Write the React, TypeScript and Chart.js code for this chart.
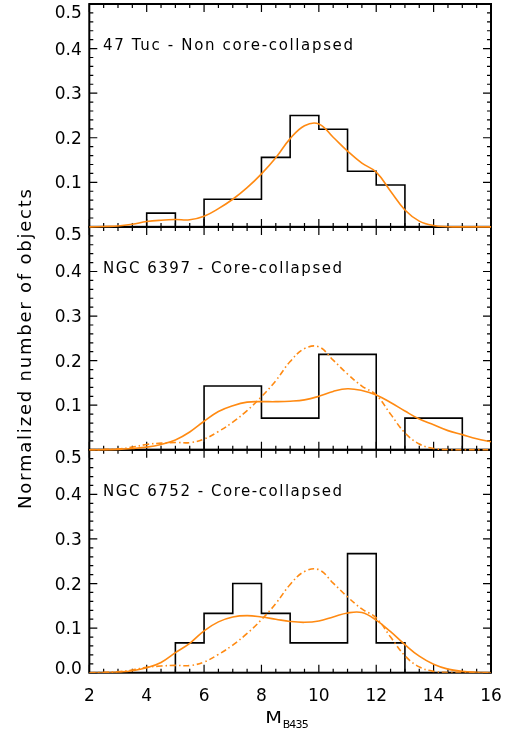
import React, { useEffect, useRef } from "react";
import { Chart, registerables } from "chart.js";

Chart.register(...registerables);

// ---------- data ----------
const PANEL_TITLES = [
  "47 Tuc - Non core-collapsed",
  "NGC 6397 - Core-collapsed",
  "NGC 6752 - Core-collapsed",
];

const BIN_WIDTH = 1;

// Panel 1: 47 Tuc
const HIST1_START = [4, 5, 6, 7, 8, 9, 10, 11, 12];
const HIST1_VALUES = [0.031, 0, 0.062, 0.062, 0.156, 0.25, 0.219, 0.125, 0.094];
// Panel 2: NGC 6397
const HIST2_START = [6, 7, 8, 9, 10, 11, 12, 13, 14];
const HIST2_VALUES = [0.143, 0.143, 0.071, 0.071, 0.214, 0.214, 0, 0.071, 0.071];
// Panel 3: NGC 6752
const HIST3_START = [5, 6, 7, 8, 9, 10, 11, 12];
const HIST3_VALUES = [0.067, 0.133, 0.2, 0.133, 0.067, 0.067, 0.267, 0.067];

// Smoothed distributions
const KDE1_X = [2, 2.5, 3, 3.5, 4, 4.5, 5, 5.5, 6, 6.5, 7, 7.5, 8, 8.5, 9, 9.5, 10, 10.5, 11, 11.5, 12, 12.5, 13, 13.5, 14, 14.5, 15, 15.5, 16];
const KDE1_Y = [0, 0.001, 0.002, 0.006, 0.012, 0.015, 0.0165, 0.016, 0.024, 0.041, 0.062, 0.088, 0.119, 0.155, 0.198, 0.227, 0.231, 0.201, 0.17, 0.143, 0.123, 0.08, 0.038, 0.013, 0.003, 0.0005, 0, 0, 0];

const KDE2_X = [2, 2.5, 3, 3.5, 4, 4.5, 5, 5.5, 6, 6.5, 7, 7.5, 8, 8.5, 9, 9.5, 10, 10.5, 11, 11.5, 12, 12.5, 13, 13.5, 14, 14.5, 15, 15.5, 16];
const KDE2_Y = [0, 0, 0.001, 0.003, 0.006, 0.012, 0.022, 0.04, 0.064, 0.086, 0.099, 0.107, 0.108, 0.108, 0.109, 0.112, 0.12, 0.131, 0.137, 0.133, 0.123, 0.106, 0.087, 0.069, 0.056, 0.043, 0.034, 0.025, 0.018];

const KDE3_X = [2, 2.5, 3, 3.5, 4, 4.5, 5, 5.5, 6, 6.5, 7, 7.5, 8, 8.5, 9, 9.5, 10, 10.5, 11, 11.5, 12, 12.5, 13, 13.5, 14, 14.5, 15, 15.5, 16];
const KDE3_Y = [0, 0, 0.0015, 0.0045, 0.011, 0.023, 0.045, 0.066, 0.094, 0.114, 0.125, 0.128, 0.125, 0.12, 0.115, 0.113, 0.116, 0.125, 0.134, 0.135, 0.118, 0.092, 0.063, 0.037, 0.019, 0.008, 0.003, 0.001, 0];

const X_TICKS = [2, 4, 6, 8, 10, 12, 14, 16];
const Y_TICKS = [0, 0.1, 0.2, 0.3, 0.4, 0.5];
const X_TITLE_MAIN = "M";
const X_TITLE_SUB = "B435";
const Y_TITLE = "Normalized number of objects";

// ---------- styling ----------
const ORANGE = "#FF8A12";
const FONT = "'DejaVu Sans', 'Liberation Sans', sans-serif";
const PANEL_AXES = ["y1", "y2", "y3"];

function histPoints(starts: number[], values: number[]) {
  const pts: { x: number; y: number }[] = [{ x: starts[0], y: 0 }];
  starts.forEach((s, i) => pts.push({ x: s, y: values[i] }));
  pts.push({ x: starts[starts.length - 1] + BIN_WIDTH, y: 0 });
  return pts;
}

function curvePoints(xs: number[], ys: number[]) {
  return xs.map((x, i) => ({ x, y: ys[i] }));
}

function drawSpaced(ctx: CanvasRenderingContext2D, text: string, x: number, y: number, target: number) {
  (ctx as any).letterSpacing = "0px";
  const w = ctx.measureText(text).width;
  const sp = (target - w) / Math.max(1, text.length - 1);
  (ctx as any).letterSpacing = sp + "px";
  ctx.textAlign = "left";
  ctx.fillText(text, x, y);
  (ctx as any).letterSpacing = "0px";
}

const framePlugin = {
  id: "idlFrame",
  beforeDatasetsDraw(chart: any) {
    const ctx: CanvasRenderingContext2D = chart.ctx;
    const xs = chart.scales.x;
    const left = chart.chartArea.left;
    const right = chart.chartArea.right;
    ctx.save();
    ctx.strokeStyle = "#000";
    PANEL_AXES.forEach((id) => {
      const ys = chart.scales[id];
      const top = ys.getPixelForValue(0.5);
      const bottom = ys.getPixelForValue(0);
      ctx.lineWidth = 1.2;
      ctx.beginPath();
      for (let v = 2; v <= 16.001; v += 0.5) {
        const px = xs.getPixelForValue(v);
        const len = Math.abs(v % 2) < 1e-6 ? 8 : 4;
        ctx.moveTo(px, bottom);
        ctx.lineTo(px, bottom - len);
        ctx.moveTo(px, top);
        ctx.lineTo(px, top + len);
      }
      for (let k = 0; k <= 25; k++) {
        const v = k * 0.02;
        const py = ys.getPixelForValue(v);
        const len = k % 5 === 0 ? 8 : 4;
        ctx.moveTo(left, py);
        ctx.lineTo(left + len, py);
        ctx.moveTo(right, py);
        ctx.lineTo(right - len, py);
      }
      ctx.stroke();
      ctx.lineWidth = 2;
      ctx.strokeRect(left, top, right - left, bottom - top);
    });
    ctx.restore();
  },
  afterDraw(chart: any) {
    const ctx: CanvasRenderingContext2D = chart.ctx;
    const xs = chart.scales.x;
    const left = chart.chartArea.left;
    const right = chart.chartArea.right;
    ctx.save();
    ctx.fillStyle = "#000";
    ctx.textBaseline = "alphabetic";
    PANEL_AXES.forEach((id, p) => {
      const ys = chart.scales[id];
      const top = ys.getPixelForValue(0.5);
      ctx.font = `17px ${FONT}`;
      ctx.textAlign = "right";
      Y_TICKS.forEach((v) => {
        if (v === 0 && p < 2) return;
        let base = ys.getPixelForValue(v) + 6;
        if (v === 0.5) base += 7.5;
        if (v === 0) base -= 4.4;
        ctx.fillText(v.toFixed(1), left - 7.5, base);
      });
      ctx.font = `15px ${FONT}`;
      drawSpaced(ctx, PANEL_TITLES[p], left + 13.7, top + 45.8, p === 0 ? 250 : 239);
    });
    const bottom = chart.scales.y3.getPixelForValue(0);
    ctx.font = `17px ${FONT}`;
    ctx.textAlign = "center";
    X_TICKS.forEach((v) => {
      ctx.fillText(String(v), xs.getPixelForValue(v), bottom + 28);
    });
    // x title
    const cx = (left + right) / 2;
    ctx.save();
    ctx.translate(cx - 25, bottom + 50);
    ctx.scale(1.25, 1);
    ctx.font = `15.5px ${FONT}`;
    ctx.textAlign = "left";
    ctx.fillText(X_TITLE_MAIN, 0, 0);
    ctx.restore();
    ctx.font = `11px ${FONT}`;
    drawSpaced(ctx, X_TITLE_SUB, cx - 7.5, bottom + 55, 26);
    // y title
    ctx.save();
    ctx.translate(31, 349);
    ctx.rotate(-Math.PI / 2);
    ctx.font = `18px ${FONT}`;
    drawSpaced(ctx, Y_TITLE, -160, 0, 320);
    ctx.restore();
    ctx.restore();
  },
};

export default function App() {
  const ref = useRef<HTMLCanvasElement>(null);
  useEffect(() => {
    document.body.style.margin = "0";
    const hist = (data: any, yAxisID: string) => ({
      data,
      yAxisID,
      borderColor: "#000",
      borderWidth: 1.6,
      pointRadius: 0,
      stepped: true,
      fill: false,
      order: 3,
    });
    const curve = (data: any, yAxisID: string, dashed: boolean) => ({
      data,
      yAxisID,
      borderColor: ORANGE,
      borderWidth: 1.6,
      pointRadius: 0,
      tension: 0.4,
      borderDash: dashed ? [6, 3, 1.5, 3] : [],
      fill: false,
      order: dashed ? 1 : 0,
    });
    const chart = new Chart(ref.current!, {
      type: "line",
      data: {
        datasets: [
          hist(histPoints(HIST1_START, HIST1_VALUES), "y1"),
          curve(curvePoints(KDE1_X, KDE1_Y), "y1", false),
          hist(histPoints(HIST2_START, HIST2_VALUES), "y2"),
          curve(curvePoints(KDE1_X, KDE1_Y), "y2", true),
          curve(curvePoints(KDE2_X, KDE2_Y), "y2", false),
          hist(histPoints(HIST3_START, HIST3_VALUES), "y3"),
          curve(curvePoints(KDE1_X, KDE1_Y), "y3", true),
          curve(curvePoints(KDE3_X, KDE3_Y), "y3", false),
        ] as any,
      },
      options: {
        animation: false,
        responsive: false,
        devicePixelRatio: 1,
        layout: { padding: { left: 89.3, right: 14, top: 4, bottom: 63.3 } },
        plugins: { legend: { display: false }, tooltip: { enabled: false } },
        scales: {
          x: { type: "linear", display: false, min: 2, max: 16 },
          y1: { type: "linear", axis: "y", position: "left", display: false, min: -1.0, max: 0.5 },
          y2: { type: "linear", axis: "y", position: "left", display: false, min: -0.5, max: 1.0 },
          y3: { type: "linear", axis: "y", position: "left", display: false, min: 0, max: 1.5 },
        } as any,
      },
      plugins: [framePlugin],
    });
    return () => chart.destroy();
  }, []);
  return (
    <div style={{ position: "relative", width: 505, height: 736, background: "#fff" }}>
      <canvas ref={ref} width={505} height={736} style={{ display: "block", width: 505, height: 736 }} />
    </div>
  );
}
